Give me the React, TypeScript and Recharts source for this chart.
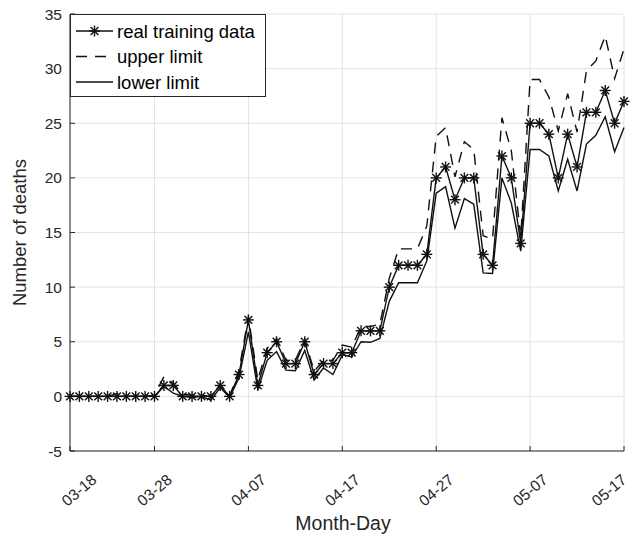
import { CartesianGrid, Label, Legend, Line, LineChart, XAxis, YAxis } from "recharts";

// daily deaths, 03-19 .. 05-17 (one value per day)
const realDeaths = [
  0, 0, 0, 0, 0, 0, 0, 0, 0, 0,
  1, 1, 0, 0, 0, 0, 1, 0, 2, 7,
  1, 4, 5, 3, 3, 5, 2, 3, 3, 4,
  4, 6, 6, 6, 10, 12, 12, 12, 13, 20,
  21, 18, 20, 20, 13, 12, 22, 20, 14, 25,
  25, 24, 20, 24, 21, 26, 26, 28, 25, 27,
];
const upperLimit = [
  0, 0, 0, 0, 0, 0.25, 0, 0, 0, 0.1,
  1.8, 1.2, 0.2, 0.1, 0.1, 0, 1.1, 0, 2.4, 7.3,
  1.5, 4.4, 5.3, 3.3, 3.3, 5.2, 2.3, 3.3, 3.3, 4.7,
  4.5, 6.4, 6.4, 6.6, 10.8, 13.5, 13.5, 13.5, 15.6, 23.8,
  24.6, 20.1, 23.3, 22.6, 14.7, 14.4, 25.5, 22.5, 14.6, 29.0,
  29.0, 27.4, 24.3, 27.7, 24.2, 29.8, 30.7, 33.0, 29.1, 31.8,
];
const lowerLimit = [
  0, 0, 0, 0, 0, 0, 0, 0, 0, 0,
  0.9, 0.3, 0, -0.1, 0, -0.35, 0.8, -0.1, 1.7, 5.9,
  0.6, 3.3, 4.1, 2.4, 2.35, 4.2, 1.5, 2.6, 2.0, 3.8,
  3.6, 5.0, 4.95, 5.3, 8.7, 10.4, 10.4, 10.4, 12.4, 18.6,
  19.2, 15.4, 18.1, 17.6, 11.3, 11.25, 20.0, 17.7, 13.3, 22.6,
  22.6, 22.0, 18.8, 21.7, 18.8, 23.1, 23.9, 25.6, 22.4, 24.6,
];

const xTicks = [1, 10, 20, 30, 40, 50, 60];
const xTickLabels = ["03-18", "03-28", "04-07", "04-17", "04-27", "05-07", "05-17"];
const yTicks = [-5, 0, 5, 10, 15, 20, 25, 30, 35];

const rows = realDeaths.map((v, i) => ({
  day: i + 1,
  real: v,
  upper: upperLimit[i],
  lower: lowerLimit[i],
}));

const INK = "#262626";
const LINE = "#111";
const FONT = "'Liberation Sans', Arial, sans-serif";

function Asterisk({ cx, cy, r = 5.5 }: { cx?: number; cy?: number; r?: number }) {
  if (cx == null || cy == null) return null;
  const d = r * 0.707;
  return (
    <g stroke={LINE} strokeWidth={1.4}>
      <line x1={cx - r} y1={cy} x2={cx + r} y2={cy} />
      <line x1={cx} y1={cy - r} x2={cx} y2={cy + r} />
      <line x1={cx - d} y1={cy - d} x2={cx + d} y2={cy + d} />
      <line x1={cx - d} y1={cy + d} x2={cx + d} y2={cy - d} />
    </g>
  );
}

function DateTick({ x, y, payload }: any) {
  const idx = xTicks.indexOf(payload.value);
  // first / last labels sit a little inside the axis ends
  const cx = Math.min(Math.max(x, 79), 609);
  return (
    <text
      x={cx}
      y={y}
      transform={`rotate(-40, ${cx}, ${y})`}
      textAnchor="middle"
      dominantBaseline="central"
      fontSize={15.5}
      fontFamily={FONT}
      fill={INK}
    >
      {xTickLabels[idx]}
    </text>
  );
}

function LegendBox() {
  const items = [
    { label: "real training data", dash: undefined, star: true },
    { label: "upper limit", dash: "11 8", star: false },
    { label: "lower limit", dash: undefined, star: false },
  ];
  return (
    <svg width={196} height={83} style={{ display: "block" }}>
      <rect x={0.5} y={0.5} width={195} height={82} fill="#fff" stroke={INK} strokeWidth={1} />
      {items.map((it, i) => {
        const cy = 17 + i * 25.5;
        return (
          <g key={it.label}>
            <line x1={6} y1={cy} x2={43} y2={cy} stroke={LINE} strokeWidth={1.4} strokeDasharray={it.dash} />
            {it.star && <Asterisk cx={24.5} cy={cy} />}
            <text x={47} y={cy} dominantBaseline="central" fontSize={18.5} fontFamily={FONT} fill="#000">
              {it.label}
            </text>
          </g>
        );
      })}
    </svg>
  );
}

export default function App() {
  return (
    <div style={{ position: "absolute", left: 0, top: 0, background: "#fff" }}>
      <LineChart width={632} height={536} data={rows} margin={{ top: 14, right: 8, bottom: 7, left: 0 }}>
        <CartesianGrid xAxisId="bottom" yAxisId="left" stroke="#e3e3e3" strokeWidth={1} />
        <XAxis
          xAxisId="bottom"
          dataKey="day"
          type="number"
          domain={[1, 60]}
          ticks={xTicks}
          height={78}
          tickSize={-5}
          tickMargin={44}
          tick={<DateTick />}
          axisLine={{ stroke: INK }}
          tickLine={{ stroke: INK }}
          interval={0}
        >
          <Label value="Month-Day" position="insideBottom" offset={-1} dx={-4} fontSize={19.5} fontFamily={FONT} fill={INK} />
        </XAxis>
        <XAxis
          xAxisId="top"
          orientation="top"
          dataKey="day"
          type="number"
          domain={[1, 60]}
          ticks={xTicks}
          height={0}
          tickSize={-5}
          tickFormatter={() => ""}
          axisLine={{ stroke: INK }}
          tickLine={{ stroke: INK }}
          interval={0}
        />
        <YAxis
          yAxisId="left"
          type="number"
          domain={[-5, 35]}
          ticks={yTicks}
          width={70}
          tickSize={-5}
          tickMargin={13}
          tick={{ fontSize: 15.5, fontFamily: FONT, fill: INK }}
          axisLine={{ stroke: INK }}
          tickLine={{ stroke: INK }}
          interval={0}
        >
          <Label
            value="Number of deaths"
            angle={-90}
            position="insideLeft"
            offset={19}
            fontSize={18.5}
            fontFamily={FONT}
            fill={INK}
            style={{ textAnchor: "middle" }}
          />
        </YAxis>
        <YAxis
          yAxisId="right"
          orientation="right"
          type="number"
          domain={[-5, 35]}
          ticks={yTicks}
          width={0}
          tickSize={-5}
          tickFormatter={() => ""}
          axisLine={{ stroke: INK }}
          tickLine={{ stroke: INK }}
          interval={0}
        />
        <Legend
          layout="vertical"
          align="center"
          verticalAlign="middle"
          content={() => <LegendBox />}
          wrapperStyle={{ left: 70, top: 14, width: 196, height: 83, bottom: "auto", right: "auto" }}
        />
        <Line
          xAxisId="bottom"
          yAxisId="left"
          dataKey="upper"
          stroke={LINE}
          strokeWidth={1.4}
          strokeDasharray="11 8"
          dot={false}
          activeDot={false}
          isAnimationActive={false}
        />
        <Line
          xAxisId="bottom"
          yAxisId="left"
          dataKey="lower"
          stroke={LINE}
          strokeWidth={1.4}
          dot={false}
          activeDot={false}
          isAnimationActive={false}
        />
        <Line
          xAxisId="bottom"
          yAxisId="left"
          dataKey="real"
          stroke={LINE}
          strokeWidth={1.4}
          dot={(p: any) => <Asterisk key={p.index} cx={p.cx} cy={p.cy} />}
          activeDot={false}
          isAnimationActive={false}
        />
      </LineChart>
    </div>
  );
}
